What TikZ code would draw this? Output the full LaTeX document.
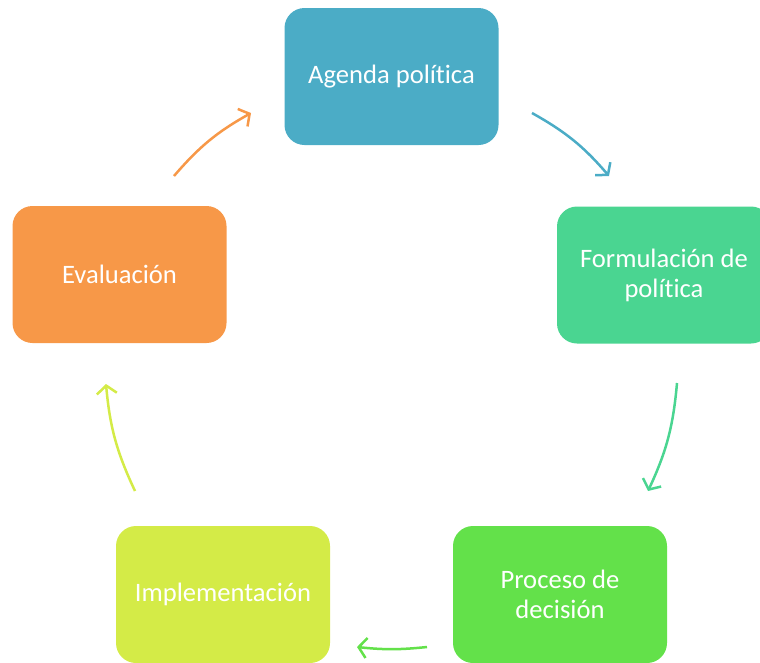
\documentclass[tikz,border=0pt]{standalone}
\usepackage{fontspec}
\setmainfont{Carlito}[RawFeature={-liga;-clig;-dlig}]
\usetikzlibrary{arrows.meta}
\definecolor{cagenda}{HTML}{4BACC6}
\definecolor{cform}{HTML}{4AD591}
\definecolor{cproc}{HTML}{63E14A}
\definecolor{cimpl}{HTML}{D4EB47}
\definecolor{ceval}{HTML}{F79848}
\begin{document}
\begin{tikzpicture}[x=1pt,y=-1pt,
  box/.style={rounded corners=20pt, minimum width=214pt, minimum height=137pt,
    text=white, font=\fontsize{26.6}{30}\selectfont, align=center, inner sep=0pt},
  flow/.style={line width=2.5pt, -{Straight Barb[length=8pt,width=20pt]}, bend left=10}]
\useasboundingbox (0,0) rectangle (760,662);
\node[box, fill=cagenda] (agenda) at (391.5,76.5) {Agenda política};
\node[box, fill=cform] (form) at (664,275) {Formulación de\\política};
\node[box, fill=cproc] (proc) at (560,594.5) {Proceso de\\decisión};
\node[box, fill=cimpl] (impl) at (223,594.5) {Implementación};
\node[box, fill=ceval] (eval) at (119.5,274.5) {Evaluación};
\coordinate (a1s) at (532,113);
\coordinate (a1e) at (609,176);
\coordinate (a2s) at (677,383);
\coordinate (a2e) at (648,491);
\coordinate (a3s) at (427,647);
\coordinate (a3e) at (357,647);
\coordinate (a4s) at (135,491);
\coordinate (a4e) at (106,384);
\coordinate (a5s) at (174,176);
\coordinate (a5e) at (251,113);
\draw[flow, draw=cagenda] (a1s) to (a1e);
\draw[flow, draw=cform] (a2s) to (a2e);
\draw[flow, draw=cproc, bend left=6] (a3s) to (a3e);
\draw[flow, draw=cimpl] (a4s) to (a4e);
\draw[flow, draw=ceval] (a5s) to (a5e);
\end{tikzpicture}
\end{document}
